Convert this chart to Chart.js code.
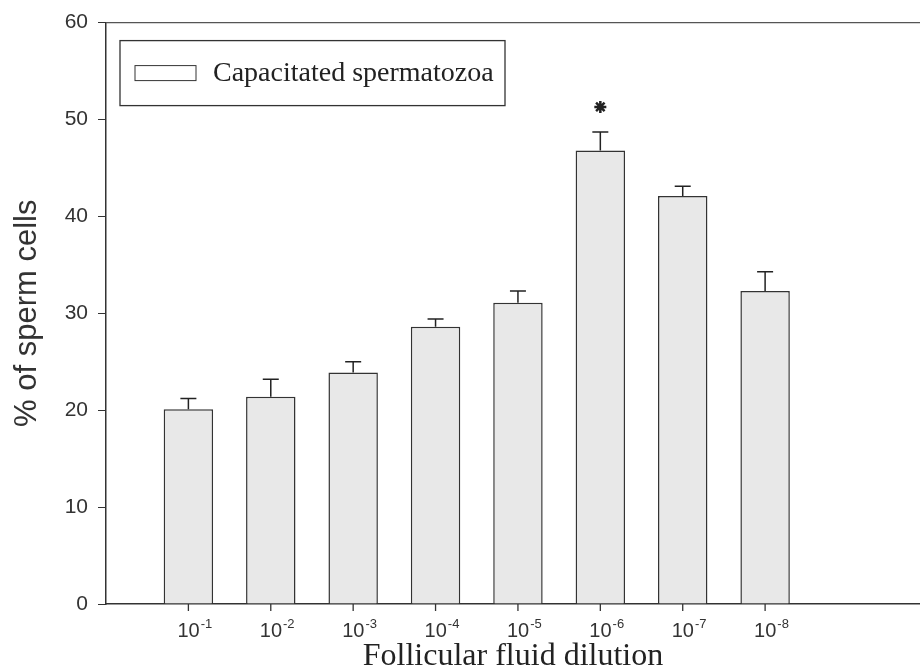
<!DOCTYPE html>
<html>
<head>
<meta charset="utf-8">
<script src="https://cdn.jsdelivr.net/npm/chart.js@4"></script>
<style>
  html, body { margin: 0; padding: 0; background: #fff; overflow: hidden; }
  #contenedor { width: 920px; height: 670px; }
  canvas { display: block; }
</style>
</head>
<body>
<div id="contenedor"><canvas id="grafico"></canvas></div>
<script>
// datos
const diluciones = ["-1", "-2", "-3", "-4", "-5", "-6", "-7", "-8"]; // exponentes de 10
const valoresCapacitados = [20.1, 21.4, 23.9, 28.6, 31.1, 46.8, 42.1, 32.3];
const erroresCapacitados = [1.1, 1.8, 1.1, 0.8, 1.2, 1.9, 1.0, 2.0];
const marcasSignificancia = [{ indice: 5, valor: 51.3 }];
const ticksY = [0, 10, 20, 30, 40, 50, 60];

const colorBorde = "#333";
const colorRelleno = "#e8e8e8";

/////////////////////////////// barras de error
const pluginErrores = {
  id: "errores",
  afterDatasetsDraw(chart) {
    const ctx = chart.ctx;
    const meta = chart.getDatasetMeta(0);
    const escalaY = chart.scales.y;
    ctx.save();
    ctx.strokeStyle = "#222";
    ctx.lineWidth = 1.5;
    meta.data.forEach((barra, i) => {
      const yTope = escalaY.getPixelForValue(valoresCapacitados[i] + erroresCapacitados[i]);
      ctx.beginPath();
      ctx.moveTo(barra.x, barra.y);
      ctx.lineTo(barra.x, yTope);
      ctx.moveTo(barra.x - 8, yTope);
      ctx.lineTo(barra.x + 8, yTope);
      ctx.stroke();
    });
    ctx.restore();
  },
};

/////////////////////////////// etiquetas 10^-n con superindice y marcas
const pluginEtiquetasX = {
  id: "etiquetasX",
  afterDraw(chart) {
    const ctx = chart.ctx;
    const escalaX = chart.scales.x;
    const abajo = chart.chartArea.bottom;
    const base = abajo + 33;
    ctx.save();
    ctx.fillStyle = "#333";
    ctx.strokeStyle = colorBorde;
    ctx.lineWidth = 1.3;
    ctx.textBaseline = "alphabetic";
    ctx.textAlign = "left";
    diluciones.forEach((exp, i) => {
      const x = escalaX.getPixelForValue(i + 1);
      ctx.beginPath();
      ctx.moveTo(x, abajo);
      ctx.lineTo(x, abajo + 7);
      ctx.stroke();
      ctx.font = "20px 'Liberation Sans'";
      const inicio = x - 11;
      ctx.fillText("10", inicio, base);
      const ancho = ctx.measureText("10").width;
      ctx.font = "13px 'Liberation Sans'";
      ctx.fillText(exp, inicio + ancho + 1, base - 9);
    });
    ctx.restore();
  },
};

/////////////////////////////// marco superior y leyenda
const pluginMarcoLeyenda = {
  id: "marcoLeyenda",
  afterDraw(chart) {
    const ctx = chart.ctx;
    const area = chart.chartArea;
    ctx.save();
    ctx.strokeStyle = "#555";
    ctx.lineWidth = 1.2;
    ctx.beginPath();
    ctx.moveTo(area.left, area.top);
    ctx.lineTo(area.right, area.top);
    ctx.stroke();

    // caja de leyenda
    const x0 = area.left + 14;
    const y0 = area.top + 18;
    ctx.strokeStyle = "#333";
    ctx.lineWidth = 1.3;
    ctx.strokeRect(x0, y0, 385, 65);
    ctx.fillStyle = "#fff";
    ctx.fillRect(x0 + 15, y0 + 25, 61, 15);
    ctx.lineWidth = 1;
    ctx.strokeRect(x0 + 15, y0 + 25, 61, 15);
    ctx.fillStyle = "#222";
    ctx.font = "28px 'Liberation Serif'";
    ctx.textBaseline = "middle";
    ctx.fillText(chart.data.datasets[0].label, x0 + 93, y0 + 33);
    ctx.restore();
  },
};

const datosBarras = valoresCapacitados.map((v, i) => ({ x: i + 1, y: v }));
const datosAsterisco = marcasSignificancia.map((m) => ({ x: m.indice + 1, y: m.valor }));

const config = {
  type: "bar",
  data: {
    datasets: [
      {
        label: "Capacitated spermatozoa",
        data: datosBarras,
        backgroundColor: colorRelleno,
        borderColor: colorBorde,
        borderWidth: 1.5,
        borderSkipped: "bottom",
        barPercentage: 0.6,
        categoryPercentage: 1,
      },
      {
        type: "scatter",
        label: "significancia",
        data: datosAsterisco,
        pointStyle: "star",
        radius: 6,
        borderWidth: 2.5,
        borderColor: "#222",
        backgroundColor: "#222",
      },
    ],
  },
  options: {
    responsive: true,
    maintainAspectRatio: false,
    animation: false,
    layout: { autoPadding: false, padding: { top: 22, right: 0, left: 0, bottom: 0 } },
    plugins: {
      legend: { display: false },
      tooltip: { enabled: false },
    },
    scales: {
      x: {
        type: "linear",
        min: 0,
        max: 9.88,
        offset: false,
        afterBuildTicks(escala) {
          escala.ticks = diluciones.map((d, i) => ({ value: i + 1 }));
        },
        afterFit(escala) {
          escala.height = 66;
        },
        ticks: {
          autoSkip: false,
          maxRotation: 0,
          callback: () => "",
        },
        grid: { offset: false, drawOnChartArea: false, drawTicks: false },
        border: { color: colorBorde, width: 1.5 },
        title: {
          display: true,
          text: "Follicular fluid dilution",
          color: "#222",
          padding: { top: 0, bottom: 0 },
          font: { family: "'Liberation Serif'", size: 32, lineHeight: 0.85 },
        },
      },
      y: {
        min: 0,
        max: 60,
        afterBuildTicks(escala) {
          escala.ticks = ticksY.map((t) => ({ value: t }));
        },
        afterFit(escala) {
          escala.width = 106;
        },
        ticks: {
          color: "#333",
          padding: 10,
          font: { family: "'Liberation Sans'", size: 21 },
        },
        grid: { drawOnChartArea: false, drawTicks: true, tickLength: 8, color: colorBorde },
        border: { color: colorBorde, width: 1.5 },
        title: {
          display: true,
          text: "% of sperm cells",
          color: "#333",
          padding: { top: 12, bottom: 0 },
          font: { family: "'Liberation Sans'", size: 31, lineHeight: 1.0 },
        },
      },
    },
  },
  plugins: [pluginErrores, pluginEtiquetasX, pluginMarcoLeyenda],
};

new Chart(document.getElementById("grafico"), config);
</script>
</body>
</html>
